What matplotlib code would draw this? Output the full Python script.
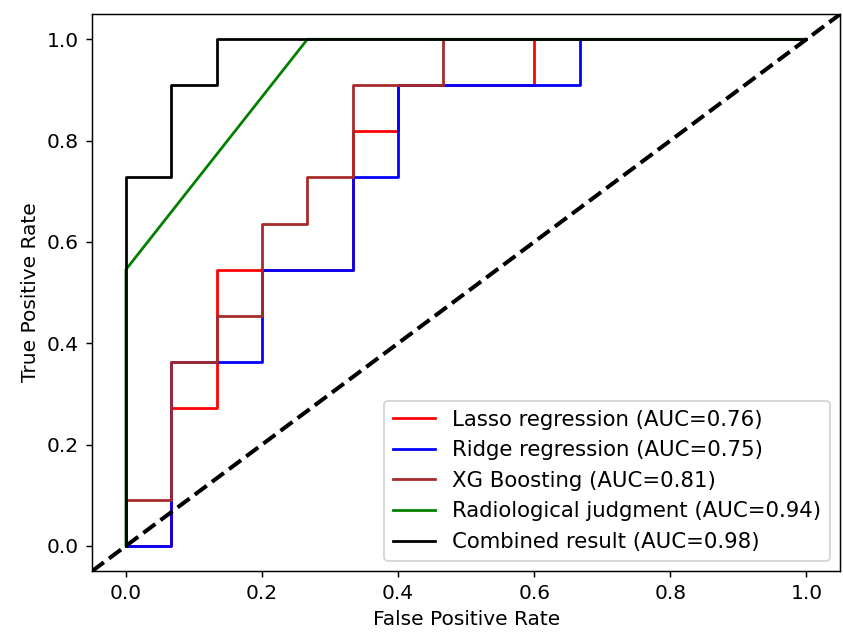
import matplotlib
matplotlib.use('Agg')
import matplotlib.pyplot as plt

# ROC points (15 negatives, 11 positives)
lasso_fpr = [0, 1/15, 1/15, 2/15, 2/15, 3/15, 3/15, 5/15, 5/15, 6/15, 6/15, 9/15, 9/15, 1]
lasso_tpr = [0, 0, 3/11, 3/11, 6/11, 6/11, 6/11, 6/11, 9/11, 9/11, 10/11, 10/11, 1, 1]

ridge_fpr = [0, 1/15, 1/15, 3/15, 3/15, 5/15, 5/15, 6/15, 6/15, 10/15, 10/15, 1]
ridge_tpr = [0, 0, 4/11, 4/11, 6/11, 6/11, 8/11, 8/11, 10/11, 10/11, 1, 1]

xgb_fpr = [0, 0, 1/15, 1/15, 2/15, 2/15, 3/15, 3/15, 4/15, 4/15, 5/15, 5/15, 7/15, 7/15, 1]
xgb_tpr = [0, 1/11, 1/11, 4/11, 4/11, 5/11, 5/11, 7/11, 7/11, 8/11, 8/11, 10/11, 10/11, 1, 1]

radio_fpr = [0, 0, 4/15, 1]
radio_tpr = [0, 6/11, 1, 1]

comb_fpr = [0, 0, 1/15, 1/15, 2/15, 2/15, 1]
comb_tpr = [0, 8/11, 8/11, 10/11, 10/11, 1, 1]

labels = ['Lasso regression (AUC=0.76)', 'Ridge regression (AUC=0.75)',
          'XG Boosting (AUC=0.81)', 'Radiological judgment (AUC=0.94)',
          'Combined result (AUC=0.98)']

dpi = 132
fig, ax = plt.subplots(figsize=(843 / dpi, 634 / dpi), dpi=dpi)
fig.subplots_adjust(left=0.109, right=0.997, top=0.978, bottom=0.099)

ax.plot(lasso_fpr, lasso_tpr, color='red', label=labels[0])
ax.plot(ridge_fpr, ridge_tpr, color='blue', label=labels[1])
ax.plot(xgb_fpr, xgb_tpr, color='brown', label=labels[2])
ax.plot(radio_fpr, radio_tpr, color='green', label=labels[3])
ax.plot(comb_fpr, comb_tpr, color='black', label=labels[4])
ax.axline((0, 0), slope=1, color='black', linestyle='--', linewidth=2.2)

ax.set_xlim(-0.05, 1.05)
ax.set_ylim(-0.05, 1.05)
ax.set_xlabel('False Positive Rate', fontsize=11)
ax.set_ylabel('True Positive Rate', fontsize=11)
ax.tick_params(labelsize=11)
ax.legend(loc='lower right', fontsize=11.6)

fig.savefig('out.png', dpi=dpi)
